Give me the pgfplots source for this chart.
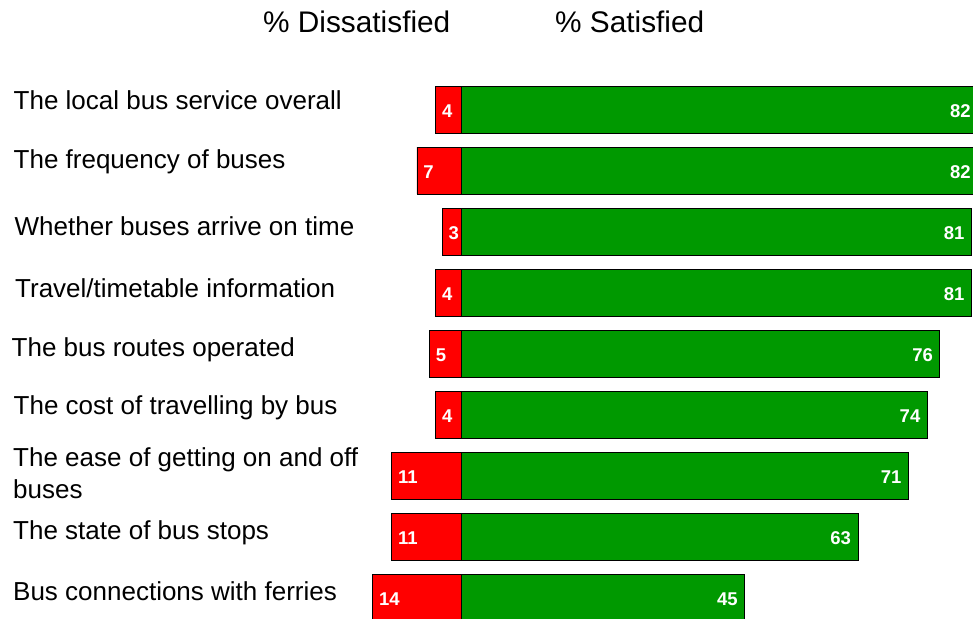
\documentclass[border=0pt]{standalone}
\usepackage{fontspec}
\setmainfont{Liberation Sans}
\usepackage{pgfplots}
\pgfplotsset{compat=1.18}
\definecolor{sred}{RGB}{255,0,0}
\definecolor{sgreen}{RGB}{0,153,0}
\begin{document}
\begin{tikzpicture}[x=1pt,y=1pt]
\useasboundingbox (0,0) rectangle (973,618);
\begin{axis}[
  at={(360.2pt,0pt)}, anchor=south west,
  scale only axis, width=612.8pt, height=569.5pt,
  xmin=-16, xmax=81.27, ymin=-1, ymax=8.336,
  y dir=reverse,
  axis lines=none, clip=false,
  xbar, bar width=47pt, bar shift=0pt,
  point meta=explicit,
  /pgf/number format/assume math mode=true,
  nodes near coords,
  nodes near coords style={font=\fontsize{18.5}{18.5}\selectfont\bfseries, text=white, inner sep=0pt},
]
\addplot[fill=sgreen, draw=black, line width=0.8pt,
  every node near coord/.append style={anchor=east, xshift=-6.5pt, yshift=-1.5pt}]
  coordinates {(82,0)[82] (82,1)[82] (81,2)[81] (81,3)[81] (76,4)[76] (74,5)[74] (71,6)[71] (63,7)[63] (45,8)[45]};
\addplot[fill=sred, draw=black, line width=0.8pt,
  every node near coord/.append style={anchor=west, xshift=6pt, yshift=-1.5pt}]
  coordinates {(-4,0)[4] (-7,1)[7] (-3,2)[3] (-4,3)[4] (-5,4)[5] (-4,5)[4] (-11,6)[11] (-11,7)[11] (-14,8)[14]};
\end{axis}
\begin{scope}[every node/.style={anchor=base west, inner sep=0pt, font=\fontsize{29.8}{34}\selectfont}]
\node at (263,585) {\% Dissatisfied};
\node at (555,585) {\% Satisfied};
\end{scope}
\begin{scope}[every node/.style={anchor=base west, inner sep=0pt, font=\fontsize{26}{31}\selectfont}]
\node at (13.5,508) {The local bus service overall};
\node at (13.5,449) {The frequency of buses};
\node at (14.5,382) {Whether buses arrive on time};
\node at (15,320) {Travel/timetable information};
\node at (11.5,261) {The bus routes operated};
\node at (13.5,203) {The cost of travelling by bus};
\node at (13,151) {The ease of getting on and off};
\node at (13,120) {buses};
\node at (13,79) {The state of bus stops};
\node at (13,18) {Bus connections with ferries};
\end{scope}
\end{tikzpicture}
\end{document}
